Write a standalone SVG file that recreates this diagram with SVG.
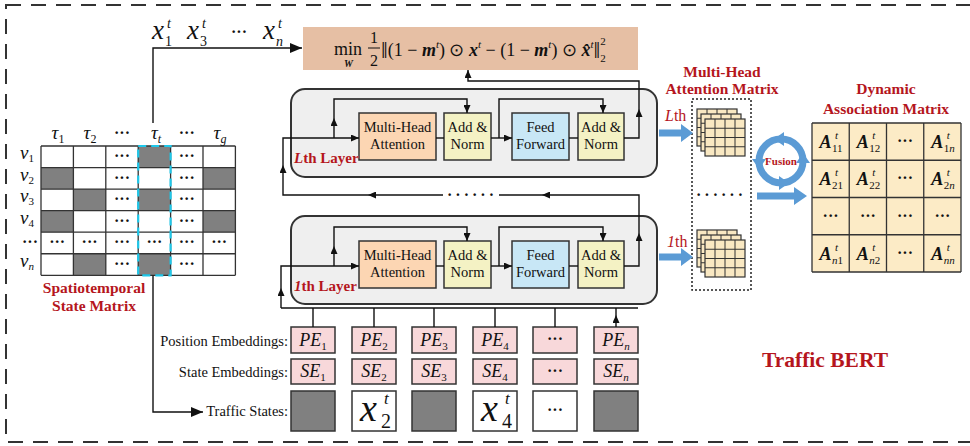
<svg xmlns="http://www.w3.org/2000/svg" width="970" height="446" viewBox="0 0 970 446">
<style>
.s{font-family:"Liberation Serif","Times New Roman",serif;fill:#111}
.i{font-style:italic}
.bi{font-style:italic;font-weight:bold}
.red{font-family:"Liberation Serif","Times New Roman",serif;fill:#b5161d;font-weight:bold}
.dots{font-family:"Liberation Serif","Times New Roman",serif;font-weight:bold;font-size:16px;fill:#111;text-anchor:middle}
.box{stroke:#333;stroke-width:1.5}
.ln{fill:none;stroke:#111;stroke-width:1.4}
.grid{fill:none;stroke:#333;stroke-width:1.3}
.blue{fill:#5b9bd5}
</style>
<defs>
<marker id="a" viewBox="0 0 10 10" refX="10" refY="5" markerWidth="8" markerHeight="7" markerUnits="userSpaceOnUse" orient="auto" preserveAspectRatio="none"><path d="M0,0L10,5L0,10z" fill="#111"/></marker>
<marker id="ab" viewBox="0 0 10 10" refX="10" refY="5" markerWidth="12" markerHeight="10" markerUnits="userSpaceOnUse" orient="auto" preserveAspectRatio="none"><path d="M0,0L10,5L0,10z" fill="#111"/></marker>
<g id="grid4"><rect width="40" height="37" fill="#f9e8c2" stroke="#333" stroke-width="1.2"/><path d="M10,0V37M20,0V37M30,0V37M0,9.25H40M0,18.5H40M0,27.75H40" stroke="#333" stroke-width="1"/></g>
<g id="stack"><use href="#grid4"/><use href="#grid4" x="4" y="5"/><use href="#grid4" x="8" y="10"/></g>
</defs>
<rect width="970" height="446" fill="#fff"/>

<g id="frame"><rect x="6" y="5" width="990" height="437" fill="none" stroke="#333" stroke-width="2" stroke-dasharray="15 10"/></g>

<g id="st-matrix">
<g fill="#808080">
<rect x="138.2" y="146" width="32.4" height="21.55"/>
<rect x="41" y="167.55" width="32.4" height="21.55"/>
<rect x="203" y="167.55" width="32.4" height="21.55"/>
<rect x="73.4" y="189.1" width="32.4" height="21.55"/>
<rect x="138.2" y="189.1" width="32.4" height="21.55"/>
<rect x="41" y="210.65" width="32.4" height="21.55"/>
<rect x="203" y="210.65" width="32.4" height="21.55"/>
<rect x="73.4" y="253.75" width="32.4" height="21.55"/>
<rect x="138.2" y="253.75" width="32.4" height="21.55"/>
</g>
<path class="grid" d="M41,146H235.4M41,167.55H235.4M41,189.1H235.4M41,210.65H235.4M41,232.2H235.4M41,253.75H235.4M41,275.3H235.4M41,146V275.3M73.4,146V275.3M105.8,146V275.3M138.2,146V275.3M170.6,146V275.3M203,146V275.3M235.4,146V275.3"/>
<rect x="138.2" y="146" width="32.4" height="129.3" fill="none" stroke="#1fc8ea" stroke-width="2.2" stroke-dasharray="8 5"/>
<g class="dots">
<text x="122" y="161">···</text><text x="186.8" y="161">···</text>
<text x="122" y="182.5">···</text><text x="186.8" y="182.5">···</text>
<text x="122" y="204">···</text><text x="186.8" y="204">···</text>
<text x="122" y="225.5">···</text><text x="186.8" y="225.5">···</text>
<text x="57.2" y="247">···</text><text x="89.6" y="247">···</text><text x="122" y="247">···</text><text x="154.4" y="247">···</text><text x="186.8" y="247">···</text><text x="219.2" y="247">···</text>
<text x="122" y="268.5">···</text><text x="186.8" y="268.5">···</text>
<text x="30" y="247">···</text>
<text x="122" y="138">···</text><text x="186.8" y="138">···</text>
</g>
<g class="s" font-size="19" text-anchor="middle">
<text x="58" y="139"><tspan class="i">τ</tspan><tspan font-size="12" dy="4">1</tspan></text>
<text x="90" y="139"><tspan class="i">τ</tspan><tspan font-size="12" dy="4">2</tspan></text>
<text x="156" y="139"><tspan class="i">τ</tspan><tspan font-size="12" dy="4" class="i">t</tspan></text>
<text x="220" y="139"><tspan class="i">τ</tspan><tspan font-size="12" dy="4" class="i">g</tspan></text>
</g>
<g class="s" font-size="19" text-anchor="middle">
<text x="27" y="159"><tspan class="i">v</tspan><tspan font-size="11" dy="3">1</tspan></text>
<text x="27" y="180.5"><tspan class="i">v</tspan><tspan font-size="11" dy="3">2</tspan></text>
<text x="27" y="202"><tspan class="i">v</tspan><tspan font-size="11" dy="3">3</tspan></text>
<text x="27" y="223.5"><tspan class="i">v</tspan><tspan font-size="11" dy="3">4</tspan></text>
<text x="27" y="267"><tspan class="i">v</tspan><tspan font-size="11" dy="3" class="i">n</tspan></text>
</g>
<text class="red" font-size="15.5" text-anchor="middle" x="94" y="293">Spatiotemporal</text>
<text class="red" font-size="15.5" text-anchor="middle" x="94" y="311">State Matrix</text>
</g>

<g id="x-labels" class="s">
<text x="152" y="39" font-size="27" class="i">x</text><text x="165" y="46" font-size="14">1</text><text x="167" y="28" font-size="14" class="i">t</text>
<text x="187" y="39" font-size="27" class="i">x</text><text x="200" y="46" font-size="14">3</text><text x="202" y="28" font-size="14" class="i">t</text>
<text x="239" y="37" class="dots" font-size="20">···</text>
<text x="263" y="39" font-size="27" class="i">x</text><text x="276" y="46" font-size="14" class="i">n</text><text x="278" y="28" font-size="14" class="i">t</text>
</g>

<g id="objective">
<rect x="303" y="27" width="335" height="43" fill="#e6bfa4"/>
<g class="s">
<text x="334" y="55" font-size="18">min</text>
<text x="344" y="67" font-size="10" class="bi">W</text>
<text x="374" y="43" font-size="16" text-anchor="middle">1</text>
<line x1="368" y1="48" x2="380" y2="48" stroke="#111" stroke-width="1"/>
<text x="374" y="66" font-size="16" text-anchor="middle">2</text>
<text x="381" y="56" font-size="18"><tspan font-size="24" dy="2">‖</tspan><tspan dy="-2">(1 − </tspan><tspan class="bi">m</tspan><tspan font-size="11" class="i" dy="-8">t</tspan><tspan dy="8">) ⊙ </tspan><tspan class="bi">x</tspan><tspan font-size="11" class="i" dy="-8">t</tspan><tspan dy="8"> − (1 − </tspan><tspan class="bi">m</tspan><tspan font-size="11" class="i" dy="-8">t</tspan><tspan dy="8">) ⊙ </tspan><tspan class="bi">x̂</tspan><tspan font-size="11" class="i" dy="-8">t</tspan><tspan font-size="24" dy="10">‖</tspan><tspan font-size="11" dy="-13">2</tspan><tspan font-size="11" dx="-5.5" dy="17">2</tspan></text>
</g>
</g>

<g id="layer-L">
<rect x="291" y="89" width="366" height="88" rx="14" fill="#efefef" stroke="#333" stroke-width="2"/>
<rect class="box" x="359" y="113" width="77" height="47" fill="#fcd6b3"/>
<rect class="box" x="444" y="113" width="47" height="47" fill="#f4f2c4"/>
<rect class="box" x="512" y="113" width="57" height="47" fill="#c8e7f6"/>
<rect class="box" x="578" y="113" width="46" height="47" fill="#f4f2c4"/>
<g class="s" font-size="14.5" text-anchor="middle">
<text x="397.5" y="132">Multi-Head</text><text x="397.5" y="149">Attention</text>
<text x="467.5" y="132">Add &amp;</text><text x="467.5" y="149">Norm</text>
<text x="540.5" y="132">Feed</text><text x="540.5" y="149">Forward</text>
<text x="601" y="132">Add &amp;</text><text x="601" y="149">Norm</text>
</g>
<text class="red" font-size="15" x="294" y="163"><tspan font-style="italic">L</tspan>th Layer</text>
</g>

<g id="layer-1">
<rect x="291" y="216" width="366" height="88" rx="14" fill="#efefef" stroke="#333" stroke-width="2"/>
<rect class="box" x="359" y="241" width="77" height="47" fill="#fcd6b3"/>
<rect class="box" x="444" y="241" width="47" height="47" fill="#f4f2c4"/>
<rect class="box" x="512" y="241" width="57" height="47" fill="#c8e7f6"/>
<rect class="box" x="578" y="241" width="46" height="47" fill="#f4f2c4"/>
<g class="s" font-size="14.5" text-anchor="middle">
<text x="397.5" y="260">Multi-Head</text><text x="397.5" y="277">Attention</text>
<text x="467.5" y="260">Add &amp;</text><text x="467.5" y="277">Norm</text>
<text x="540.5" y="260">Feed</text><text x="540.5" y="277">Forward</text>
<text x="601" y="260">Add &amp;</text><text x="601" y="277">Norm</text>
</g>
<text class="red" font-size="15" x="294" y="291"><tspan font-style="italic">1</tspan>th Layer</text>
</g>

<g id="embeddings">
<g class="s" font-size="14.5" text-anchor="end">
<text x="288" y="346">Position Embeddings:</text>
<text x="288" y="377">State Embeddings:</text>
<text x="288" y="416">Traffic States:</text>
</g>
<g class="box" fill="#f8d8da">
<rect x="291" y="327" width="44" height="26"/><rect x="352" y="327" width="44" height="26"/><rect x="412" y="327" width="44" height="26"/><rect x="473" y="327" width="44" height="26"/><rect x="533" y="327" width="44" height="26"/><rect x="594" y="327" width="44" height="26"/>
<rect x="291" y="359" width="44" height="25"/><rect x="352" y="359" width="44" height="25"/><rect x="412" y="359" width="44" height="25"/><rect x="473" y="359" width="44" height="25"/><rect x="533" y="359" width="44" height="25"/><rect x="594" y="359" width="44" height="25"/>
</g>
<g class="box">
<rect x="291" y="391" width="44" height="40" fill="#808080"/><rect x="352" y="391" width="44" height="40" fill="#fff"/><rect x="412" y="391" width="44" height="40" fill="#808080"/><rect x="473" y="391" width="44" height="40" fill="#fff"/><rect x="533" y="391" width="44" height="40" fill="#fff"/><rect x="594" y="391" width="44" height="40" fill="#808080"/>
</g>
<g class="s" font-size="18" text-anchor="middle">
<text x="313" y="346"><tspan class="i">PE</tspan><tspan font-size="11" dy="4">1</tspan></text>
<text x="374" y="346"><tspan class="i">PE</tspan><tspan font-size="11" dy="4">2</tspan></text>
<text x="434" y="346"><tspan class="i">PE</tspan><tspan font-size="11" dy="4">3</tspan></text>
<text x="495" y="346"><tspan class="i">PE</tspan><tspan font-size="11" dy="4">4</tspan></text>
<text x="616" y="346"><tspan class="i">PE</tspan><tspan font-size="11" dy="4" class="i">n</tspan></text>
<text x="313" y="377"><tspan class="i">SE</tspan><tspan font-size="11" dy="4">1</tspan></text>
<text x="374" y="377"><tspan class="i">SE</tspan><tspan font-size="11" dy="4">2</tspan></text>
<text x="434" y="377"><tspan class="i">SE</tspan><tspan font-size="11" dy="4">3</tspan></text>
<text x="495" y="377"><tspan class="i">SE</tspan><tspan font-size="11" dy="4">4</tspan></text>
<text x="616" y="377"><tspan class="i">SE</tspan><tspan font-size="11" dy="4" class="i">n</tspan></text>
</g>
<g class="dots"><text x="555" y="344">···</text><text x="555" y="376">···</text><text x="555" y="415">···</text></g>
<g class="s">
<text x="360" y="421" font-size="38" class="i">x</text><text x="381" y="428" font-size="20">2</text><text x="384" y="404" font-size="17" class="i">t</text>
<text x="481" y="421" font-size="38" class="i">x</text><text x="502" y="428" font-size="20">4</text><text x="505" y="404" font-size="17" class="i">t</text>
</g>
</g>

<g id="mha-matrix">
<text class="red" font-size="15.5" text-anchor="middle" x="722" y="77">Multi-Head</text>
<text class="red" font-size="15.5" text-anchor="middle" x="722" y="94">Attention Matrix</text>
<rect x="692" y="99" width="59" height="191" fill="none" stroke="#222" stroke-width="1.5" stroke-dasharray="2 2"/>
<use href="#stack" x="697" y="109"/>
<use href="#stack" x="697" y="230"/>
<text class="dots" x="721" y="200" letter-spacing="3">······</text>
<text x="665" y="121" font-size="16" fill="#b5161d" font-family="Liberation Serif, serif"><tspan font-style="italic">L</tspan>th</text>
<text x="667" y="247" font-size="16" fill="#b5161d" font-family="Liberation Serif, serif"><tspan font-style="italic">1</tspan>th</text>
<polygon class="blue" points="659,129.5 681,129.5 681,124 693,133 681,142 681,136.5 659,136.5"/>
<polygon class="blue" points="659,253.5 681,253.5 681,248 693,257 681,266 681,260.5 659,260.5"/>
</g>

<g id="fusion">
<circle cx="781" cy="161" r="22" fill="none" stroke="#5b9bd5" stroke-width="7"/>
<polygon class="blue" points="774,139 784,132 784,146"/>
<polygon class="blue" points="759,169 752,159 766,159"/>
<polygon class="blue" points="789,183 779,176 779,190"/>
<polygon class="blue" points="803,153 796,163 810,163"/>
<text class="red" font-size="11" text-anchor="middle" x="781" y="165">Fusion</text>
<polygon class="blue" points="757,192.5 794,192.5 794,187 807,196 794,205 794,199.5 757,199.5"/>
</g>

<g id="dam">
<text class="red" font-size="15.5" text-anchor="middle" x="886" y="94">Dynamic</text>
<text class="red" font-size="15.5" text-anchor="middle" x="886" y="114">Association Matrix</text>
<rect x="812" y="123" width="149" height="149" fill="#fcebc6"/>
<path class="grid" d="M812,123H961M812,160.25H961M812,197.5H961M812,234.75H961M812,272H961M812,123V272M849.25,123V272M886.5,123V272M923.75,123V272M961,123V272"/>
<g class="s">
<text x="819.5" y="148" font-size="18" class="bi">A</text><text x="835" y="139" font-size="11" class="i">t</text><text x="832" y="152" font-size="11">11</text>
<text x="856.8" y="148" font-size="18" class="bi">A</text><text x="872.3" y="139" font-size="11" class="i">t</text><text x="869.3" y="152" font-size="11">12</text>
<text x="931.3" y="148" font-size="18" class="bi">A</text><text x="946.8" y="139" font-size="11" class="i">t</text><text x="943.8" y="152" font-size="11">1<tspan class="i">n</tspan></text>
<text x="819.5" y="185.3" font-size="18" class="bi">A</text><text x="835" y="176.3" font-size="11" class="i">t</text><text x="832" y="189.3" font-size="11">21</text>
<text x="856.8" y="185.3" font-size="18" class="bi">A</text><text x="872.3" y="176.3" font-size="11" class="i">t</text><text x="869.3" y="189.3" font-size="11">22</text>
<text x="931.3" y="185.3" font-size="18" class="bi">A</text><text x="946.8" y="176.3" font-size="11" class="i">t</text><text x="943.8" y="189.3" font-size="11">2<tspan class="i">n</tspan></text>
<text x="819.5" y="259.8" font-size="18" class="bi">A</text><text x="835" y="250.8" font-size="11" class="i">t</text><text x="832" y="263.8" font-size="11"><tspan class="i">n</tspan>1</text>
<text x="856.8" y="259.8" font-size="18" class="bi">A</text><text x="872.3" y="250.8" font-size="11" class="i">t</text><text x="869.3" y="263.8" font-size="11"><tspan class="i">n</tspan>2</text>
<text x="931.3" y="259.8" font-size="18" class="bi">A</text><text x="946.8" y="250.8" font-size="11" class="i">t</text><text x="943.8" y="263.8" font-size="11" class="i">nn</text>
</g>
<g class="dots">
<text x="905" y="146">···</text><text x="905" y="183.3">···</text>
<text x="830.6" y="220.5">···</text><text x="867.9" y="220.5">···</text><text x="905" y="220.5">···</text><text x="942.4" y="220.5">···</text>
<text x="905" y="257.8">···</text>
</g>
</g>

<g id="title"><text class="red" font-size="21.5" text-anchor="middle" x="825" y="367">Traffic BERT</text></g>

<g id="connectors" class="ln">
<path d="M153,123V48H302" marker-end="url(#ab)"/>
<path d="M153,275.5V412H203" marker-end="url(#ab)"/>
<path d="M313,327V315M374,327V315M434,327V315M495,327V315M555,327V315M616,327V315" marker-end="url(#a)"/>
<path d="M313,315V308M374,315V308M434,315V308M495,315V308M555,315V308M616,315V308M281,308H638"/>
<path d="M281,308V288" marker-end="url(#a)"/>
<path d="M281,288V266H359" marker-end="url(#a)"/>
<path d="M334,266V246" marker-end="url(#a)"/>
<path d="M334,246V227H467V241" marker-end="url(#a)"/>
<path d="M436,266H444"/>
<path d="M491,266H512" marker-end="url(#a)"/>
<path d="M499,266V227H603V241" marker-end="url(#a)"/>
<path d="M569,266H578"/>
<path d="M624,266H639V233" marker-end="url(#a)"/>
<path d="M639,233V195H542" marker-end="url(#a)"/>
<path d="M542,195H499"/>
<path d="M443,195H368" marker-end="url(#a)"/>
<path d="M368,195H283V165" marker-end="url(#a)"/>
<path d="M283,165V138H359" marker-end="url(#a)"/>
<path d="M334,138V118" marker-end="url(#a)"/>
<path d="M334,118V99H467V113" marker-end="url(#a)"/>
<path d="M436,138H444"/>
<path d="M491,138H512" marker-end="url(#a)"/>
<path d="M499,138V99H603V113" marker-end="url(#a)"/>
<path d="M569,138H578"/>
<path d="M624,138H639V109" marker-end="url(#a)"/>
<path d="M639,109V81H468V70" marker-end="url(#a)"/>
</g>
<text class="dots" x="472" y="200" letter-spacing="3">······</text>
</svg>
